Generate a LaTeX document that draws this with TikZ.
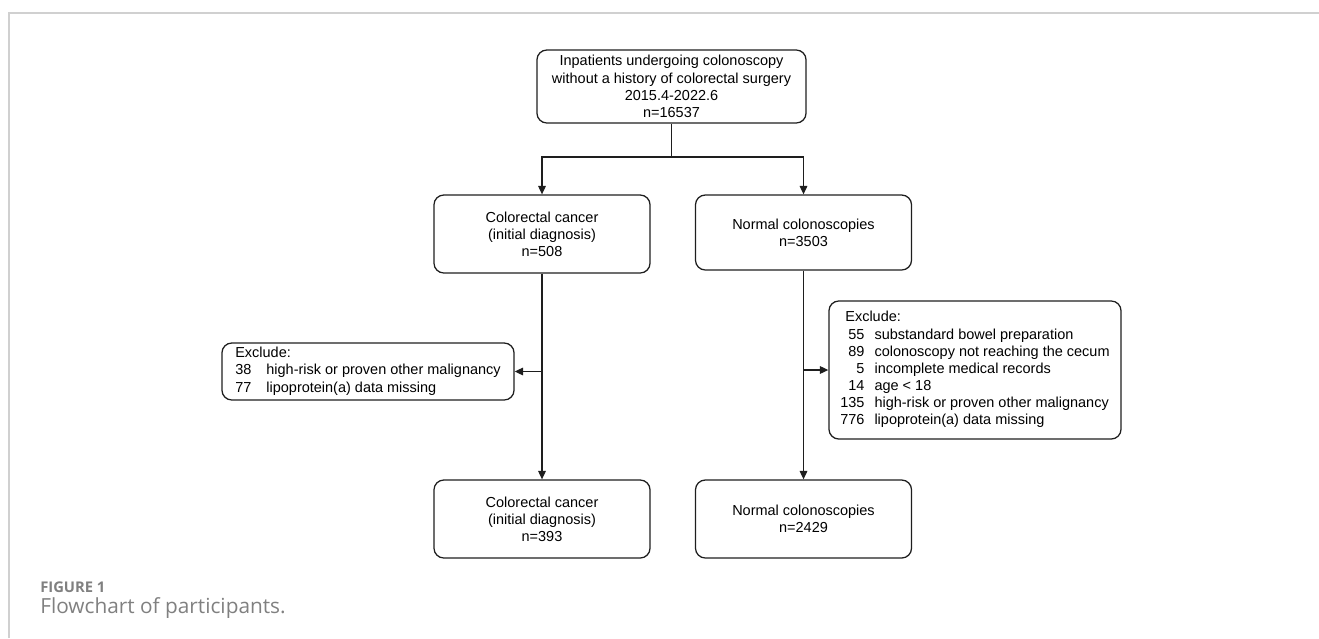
\documentclass[tikz,border=0pt]{standalone}
\usepackage{fontspec}
\setmainfont{Liberation Sans}
\newfontfamily\capfont{Open Sans}
\usepackage{xcolor}
\usetikzlibrary{arrows.meta, positioning, calc}
\definecolor{flowline}{HTML}{1E1E1E}
\definecolor{framegray}{HTML}{D0D0D0}
\definecolor{capgray}{HTML}{808080}
\newcommand{\flowfont}{\fontsize{10.3}{12.2}\selectfont}

\begin{document}
\begin{tikzpicture}[
    x=0.025cm, y=-0.025cm,
    box/.style={rectangle, rounded corners=7pt, draw=flowline, line width=0.9pt, font=\flowfont, align=center, inner sep=0pt, minimum width=5.4cm, minimum height=1.95cm},
    exclbox/.style={box, minimum width=7.3cm},
    arrow/.style={-{Triangle[length=2.1mm, width=1.9mm]}, line width=0.9pt, draw=flowline},
    line/.style={line width=0.9pt, draw=flowline}
]
\useasboundingbox (0,0) rectangle (1319,638);

% Frame of the figure panel
\draw[framegray, line width=1.5pt] (9,638) -- (9,13) -- (1319,13);

% Study population
\node[box, minimum width=6.725cm, minimum height=1.825cm] (inpat) at (671.5,86.5) {Inpatients undergoing colonoscopy\\without a history of colorectal surgery\\2015.4-2022.6\\n=16537};

% Groups before exclusion
\node[box] (crc1) at (542,234) {Colorectal cancer\\(initial diagnosis)\\n=508};
\node[box, minimum height=1.875cm] (norm1) at (803.5,232.5) {Normal colonoscopies\\n=3503};

% Exclusions
\node[exclbox, minimum height=1.425cm] (exclcrc) at (368,371.5) {%
\begin{tabular}{@{}l@{\hspace{0.375cm}}l@{}}
\multicolumn{2}{@{}l@{}}{Exclude:}\\
38 & high-risk or proven other malignancy\\
77 & lipoprotein(a) data missing
\end{tabular}};
\node[exclbox, minimum height=3.45cm] (exclnorm) at (975,370) {%
\begin{tabular}{@{}r@{\hspace{0.25cm}}l@{}}
\multicolumn{2}{@{}l@{}}{\hspace{0.125cm}Exclude:}\\
55 & substandard bowel preparation\\
89 & colonoscopy not reaching the cecum\\
5 & incomplete medical records\\
14 & age \textless{} 18\\
135 & high-risk or proven other malignancy\\
776 & lipoprotein(a) data missing
\end{tabular}};

% Final groups
\node[box] (crc2) at (542,519) {Colorectal cancer\\(initial diagnosis)\\n=393};
\node[box] (norm2) at (803.5,519) {Normal colonoscopies\\n=2429};

% Connectors
\coordinate (split) at (inpat.south |- 0,157);
\draw[line] (inpat.south) -- (split);
\draw[arrow] (split) -| (crc1.north);
\draw[arrow] (split) -| (norm1.north);
\draw[arrow] (crc1.south) -- (crc2.north);
\draw[arrow] (norm1.south) -- (norm2.north);
\draw[arrow] (crc1.south |- exclcrc.east) -- (exclcrc.east);
\draw[arrow] (norm1.south |- exclnorm.west) -- (exclnorm.west);

% Caption
\node[anchor=west, inner sep=0pt, text=capgray, font={\capfont\bfseries\fontsize{10.5}{12}\selectfont}] (figlabel) at (40,587) {FIGURE 1};
\node[anchor=west, inner sep=0pt, text=capgray, font={\capfont\fontsize{14.8}{17}\selectfont}] (figcap) at (40,608) {Flowchart of participants.};

\end{tikzpicture}
\end{document}
